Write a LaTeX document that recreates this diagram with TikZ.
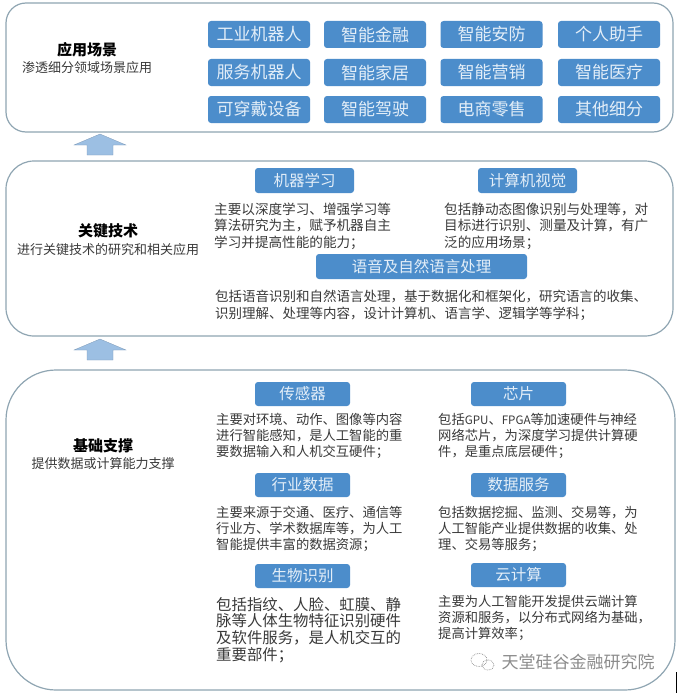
\documentclass[tikz,border=0pt]{standalone}
\usepackage{fontspec}
\setmainfont{Noto Sans CJK SC}
\usepackage{xcolor}
\definecolor{panelline}{HTML}{8FA5B2}
\definecolor{btnblue}{HTML}{4C8DCB}
\definecolor{btntext}{HTML}{E3EEF8}
\definecolor{arrowblue}{HTML}{9CBFE3}
\definecolor{bodytext}{HTML}{3A3A3A}
\definecolor{markgray}{HTML}{8C8C8C}
\newcommand{\px}[1]{\fontsize{#1}{#1}\selectfont}
\tikzset{
	panel/.style={draw=panelline,line width=1.2pt,fill=white,minimum width=667,inner sep=0pt},
	btn/.style={fill=btnblue,text=btntext,rounded corners=3pt,inner sep=0pt,font=\px{17}},
	tilebtn/.style={btn,minimum width=102,minimum height=27},
	headbtn/.style={btn,minimum width=97,minimum height=25,font=\px{15.5}},
	title/.style={text=black,inner sep=0pt,font=\px{15}\bfseries},
	subtitle/.style={text=bodytext,inner sep=0pt,font=\px{13}},
	body/.style={text=bodytext,inner sep=0pt,anchor=west,align=left,font=\fontsize{13.6}{16.6}\selectfont},
	smallbody/.style={body,font=\fontsize{13.3}{16}\selectfont},
	upblock/.style={fill=arrowblue,draw=arrowblue!80!black,line width=0.3pt}
}
\begin{document}
\begin{tikzpicture}[x=1pt,y=-1pt]
	\useasboundingbox (0,0) rectangle (677,693);
	
	% three panels
	\node[panel,minimum height=129,rounded corners=20] (appPanel) at (339.5,67.5) {};
	\node[panel,minimum height=175,rounded corners=28] (techPanel) at (339.5,248.5) {};
	\node[panel,minimum width=669,minimum height=320,rounded corners=50] (basePanel) at (340.5,530) {};
	
	% arrows between panels
	\filldraw[upblock] (74,145) -- (100,134) -- (126,145) -- (113,145) -- (113,155) -- (87,155) -- (87,145) -- cycle;
	\filldraw[upblock] (74,350) -- (100,339) -- (126,350) -- (113,350) -- (113,360) -- (87,360) -- (87,350) -- cycle;
	
	% left titles
	\node[title] (appTitle) at (87,50) {应用场景};
	\node[subtitle] (appSub) at (87,68) {渗透细分领域场景应用};
	\node[title] (techTitle) at (108,231) {关键技术};
	\node[subtitle] (techSub) at (108,250) {进行关键技术的研究和相关应用};
	\node[title] (baseTitle) at (103,446) {基础支撑};
	\node[subtitle] (baseSub) at (103,464) {提供数据或计算能力支撑};
	
	% application tiles
	\node[tilebtn] (robotInd) at (259,34.5) {工业机器人};
	\node[tilebtn] (finance) at (375,34.5) {智能金融};
	\node[tilebtn] (security) at (491.5,34.5) {智能安防};
	\node[tilebtn] (assistant) at (609,34.5) {个人助手};
	\node[tilebtn] (robotSrv) at (259,72.5) {服务机器人};
	\node[tilebtn] (home) at (375,72.5) {智能家居};
	\node[tilebtn] (marketing) at (491.5,72.5) {智能营销};
	\node[tilebtn] (medical) at (609,72.5) {智能医疗};
	\node[tilebtn] (wearable) at (259,109.5) {可穿戴设备};
	\node[tilebtn] (driving) at (375,109.5) {智能驾驶};
	\node[tilebtn] (retail) at (491.5,109.5) {电商零售};
	\node[tilebtn] (others) at (609,109.5) {其他细分};
	
	% key technologies
	\node[headbtn,minimum width=99] (mlBtn) at (304.5,180.5) {机器学习};
	\node[headbtn,minimum width=99] (cvBtn) at (527.5,180.5) {计算机视觉};
	\node[headbtn,minimum width=211] (nlpBtn) at (421.5,266.5) {语音及自然语言处理};
	\node[body] (mlText) at (214,226) {主要以深度学习、增强学习等\\算法研究为主，赋予机器自主\\学习并提高性能的能力；};
	\node[body] (cvText) at (444,226) {包括静动态图像识别与处理等，对\\目标进行识别、测量及计算，有广\\泛的应用场景；};
	\node[body,font=\fontsize{13.5}{17}\selectfont] (nlpText) at (215,305.5) {包括语音识别和自然语言处理，基于数据化和框架化，研究语言的收集、\\识别理解、处理等内容，设计计算机、语言学、逻辑学等学科；};
	
	% base support, left column
	\node[headbtn,minimum width=95,minimum height=24] (sensorBtn) at (302.5,394) {传感器};
	\node[headbtn,minimum width=95,minimum height=24] (dataBtn) at (302.5,485) {行业数据};
	\node[headbtn,minimum width=95,minimum height=24] (bioBtn) at (302.5,576) {生物识别};
	\node[smallbody] (sensorText) at (216,436) {主要对环境、动作、图像等内容\\进行智能感知，是人工智能的重\\要数据输入和人机交互硬件；};
	\node[smallbody] (dataText) at (216,529) {主要来源于交通、医疗、通信等\\行业方、学术数据库等，为人工\\智能提供丰富的数据资源；};
	\node[body,font=\fontsize{15.4}{16.7}\selectfont] (bioText) at (216,630) {包括指纹、人脸、虹膜、静\\脉等人体生物特征识别硬件\\及软件服务，是人机交互的\\重要部件；};
	
	% base support, right column
	\node[headbtn,minimum width=95,minimum height=24] (chipBtn) at (518.5,394) {芯片};
	\node[headbtn,minimum width=95,minimum height=24] (serviceBtn) at (518.5,485) {数据服务};
	\node[headbtn,minimum width=95,minimum height=24] (cloudBtn) at (518.5,575) {云计算};
	\node[smallbody] (chipText) at (438,436) {包括{\px{11.6}GPU}、{\px{11.6}FPGA}等加速硬件与神经\\网络芯片，为深度学习提供计算硬\\件，是重点底层硬件；};
	\node[smallbody] (serviceText) at (438,529) {包括数据挖掘、监测、交易等，为\\人工智能产业提供数据的收集、处\\理、交易等服务；};
	\node[smallbody] (cloudText) at (438,618) {主要为人工智能开发提供云端计算\\资源和服务，以分布式网络为基础，\\提高计算效率；};
	
	% watermark
	\draw[markgray,densely dotted,line width=0.7pt] (479,660) ellipse (8 and 6.5);
	\draw[markgray,densely dotted,line width=0.7pt] (488,665) ellipse (6 and 5);
	\node[inner sep=0pt,text=markgray,font=\px{17}] (markText) at (578,662) {天堂硅谷金融研究院};
	
	% black corner mark
	\fill[black] (675.5,672) rectangle (677,693);
\end{tikzpicture}
\end{document}
